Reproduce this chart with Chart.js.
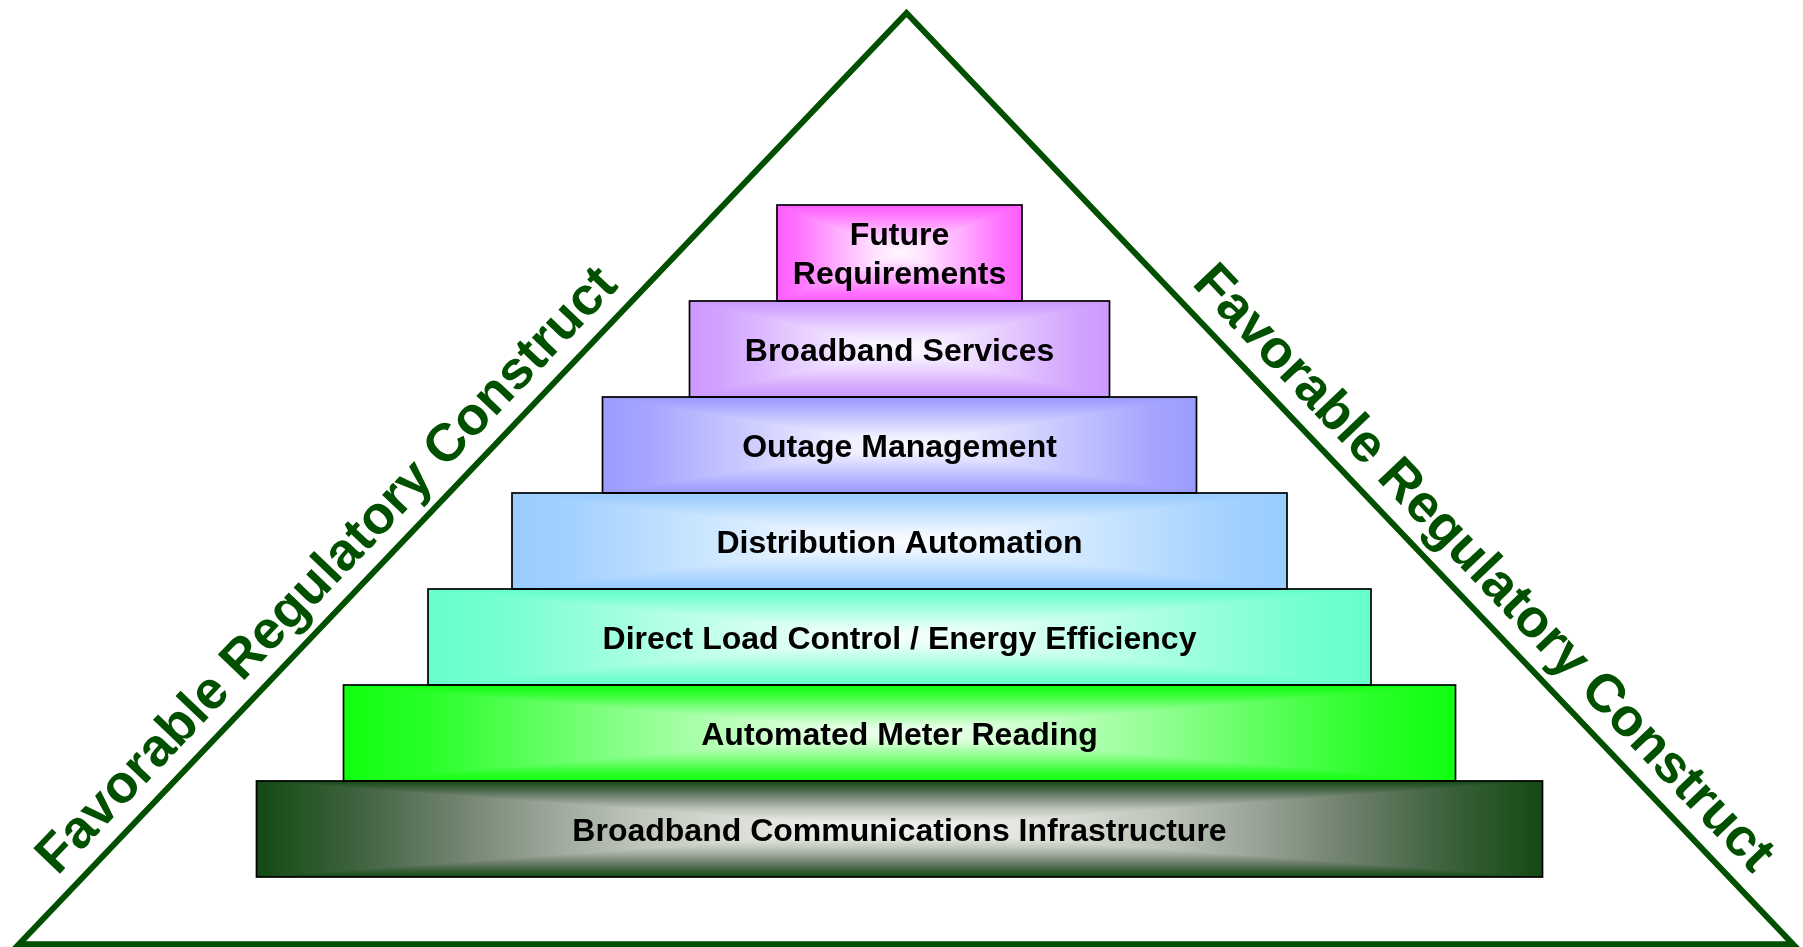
<!DOCTYPE html>
<html>
<head>
<meta charset="utf-8">
<title>Pyramid</title>
<script src="https://cdn.jsdelivr.net/npm/chart.js@4/dist/chart.umd.min.js"></script>
<style>
  html, body { margin: 0; padding: 0; background: #fff; }
  #wrap { width: 1803px; height: 947px; position: relative; }
</style>
</head>
<body>
<div id="wrap"><canvas id="pyramid"></canvas></div>
<script>
// layers, top of the pyramid first
const layers = [
    ['Future', 'Requirements'],
    'Broadband Services',
    'Outage Management',
    'Distribution Automation',
    'Direct Load Control / Energy Efficiency',
    'Automated Meter Reading',
    'Broadband Communications Infrastructure'
];
// width of each layer in x-axis units, every layer centred on 0
const layerWidths = [245, 420, 594, 775, 943, 1112, 1286];
const sideText = 'Favorable Regulatory Construct';
// frame corners as [x value, layer position]
const frameApex = [7, -2.5];
const frameLeft = [-880.5, 7.2];
const frameRight = [893.5, 7.2];

const edgeColors = ['#ff5eff', '#cc99ff', '#9b9bff', '#99ccff', '#66ffcc', '#10ff10', '#124a12'];
const frameColor = '#005000';
const whiten = [[0, 0], [0.15, 0.1], [0.5, 0.5], [0.8, 0.82], [1, 0.95]];
const baseStops = [[0, '#124a12'], [0.15, '#3d613d'], [0.3, '#6d806b'], [0.45, '#9aa598'],
                   [0.6, '#c0c6bc'], [0.8, '#e2e5df'], [1, '#f4f5f2']];

function mix(hex, f) {
    const n = parseInt(hex.slice(1), 16);
    const ch = [n >> 16, (n >> 8) & 255, n & 255].map(c => Math.round(c + (255 - c) * f));
    return 'rgb(' + ch.join(',') + ')';
}

function stopsFor(i) {
    if (i === layers.length - 1) return baseStops;
    return whiten.map(([t, f]) => [t, mix(edgeColors[i], f)]);
}

// rectangular "path" gradient: edge colour on the border, light in the middle
function fillPath(ctx, x0, y0, x1, y1, stops) {
    const cx = (x0 + x1) / 2, cy = (y0 + y1) / 2;
    const grad = (ax, ay, bx, by) => {
        const g = ctx.createLinearGradient(ax, ay, bx, by);
        stops.forEach(([t, c]) => g.addColorStop(t, c));
        return g;
    };
    ctx.save();
    ctx.fillStyle = grad(0, y0, 0, cy);
    ctx.fillRect(x0, y0, x1 - x0, cy - y0 + 1);
    ctx.fillStyle = grad(0, y1, 0, cy);
    ctx.fillRect(x0, cy, x1 - x0, y1 - cy);
    ctx.beginPath();
    ctx.moveTo(x0, y0); ctx.lineTo(cx, cy); ctx.lineTo(x0, y1); ctx.closePath();
    ctx.fillStyle = grad(x0, 0, cx, 0);
    ctx.fill();
    ctx.beginPath();
    ctx.moveTo(x1, y0); ctx.lineTo(cx, cy); ctx.lineTo(x1, y1); ctx.closePath();
    ctx.fillStyle = grad(x1, 0, cx, 0);
    ctx.fill();
    ctx.restore();
}

function sideLabel(ctx, from, to, along, offset) {
    const dx = to[0] - from[0], dy = to[1] - from[1];
    const len = Math.hypot(dx, dy);
    ctx.save();
    ctx.translate(from[0] + dx / len * along, from[1] + dy / len * along);
    ctx.rotate(Math.atan2(dy, dx));
    ctx.fillStyle = frameColor;
    ctx.font = 'bold 53.5px "Liberation Sans", Arial, sans-serif';
    ctx.textAlign = 'center';
    ctx.textBaseline = 'alphabetic';
    ctx.fillText(sideText, 0, -offset);
    ctx.restore();
}

const pyramidPlugin = {
    id: 'pyramid',
    afterDatasetsDraw(chart) {
        const ctx = chart.ctx;
        const xs = chart.scales.x, ys = chart.scales.y;
        const bars = chart.getDatasetMeta(0).data.map(bar => {
            const p = bar.getProps(['x', 'y', 'base', 'height'], true);
            return {
                x0: Math.min(p.base, p.x), x1: Math.max(p.base, p.x),
                y0: p.y - p.height / 2, y1: p.y + p.height / 2
            };
        });

        bars.forEach((b, i) => fillPath(ctx, b.x0, b.y0, b.x1, b.y1, stopsFor(i)));

        ctx.save();
        ctx.lineWidth = 1.7;
        ctx.strokeStyle = '#000';
        bars.forEach(b => ctx.strokeRect(b.x0, b.y0, b.x1 - b.x0, b.y1 - b.y0));

        ctx.fillStyle = '#000';
        ctx.font = 'bold 32px "Liberation Sans", Arial, sans-serif';
        ctx.textAlign = 'center';
        ctx.textBaseline = 'middle';
        bars.forEach((b, i) => {
            const lines = [].concat(layers[i]);
            const cx = (b.x0 + b.x1) / 2, cy = (b.y0 + b.y1) / 2 + 3;
            lines.forEach((t, k) => ctx.fillText(t, cx, cy + (k - (lines.length - 1) / 2) * 39));
        });
        ctx.restore();

        // frame triangle
        const pt = ([v, lvl]) => [xs.getPixelForValue(v), ys.getPixelForValue(lvl)];
        const A = pt(frameApex), B = pt(frameLeft), C = pt(frameRight);
        ctx.save();
        ctx.strokeStyle = frameColor;
        ctx.lineWidth = 6;
        ctx.lineJoin = 'miter';
        ctx.beginPath();
        ctx.moveTo(A[0], A[1]); ctx.lineTo(C[0], C[1]); ctx.lineTo(B[0], B[1]);
        ctx.closePath();
        ctx.stroke();
        ctx.restore();

        sideLabel(ctx, B, A, 483, 19);
        sideLabel(ctx, A, C, 800, 19);
    }
};

const ctx = document.getElementById('pyramid').getContext('2d');
new Chart(ctx, {
    type: 'bar',
    data: {
        labels: layers,
        datasets: [{
            label: 'Layers',
            data: layerWidths.map(w => [-w / 2, w / 2]),
            backgroundColor: edgeColors,
            borderWidth: 0,
            barPercentage: 1,
            categoryPercentage: 1
        }]
    },
    options: {
        indexAxis: 'y',
        responsive: true,
        maintainAspectRatio: false,
        animation: false,
        layout: { padding: { top: 205, bottom: 70, left: 0, right: 0 } },
        scales: {
            x: { type: 'linear', min: -899.5, max: 903.5, display: false },
            y: { display: false }
        },
        plugins: {
            legend: { display: false },
            tooltip: { enabled: false }
        }
    },
    plugins: [pyramidPlugin]
});
</script>
</body>
</html>
